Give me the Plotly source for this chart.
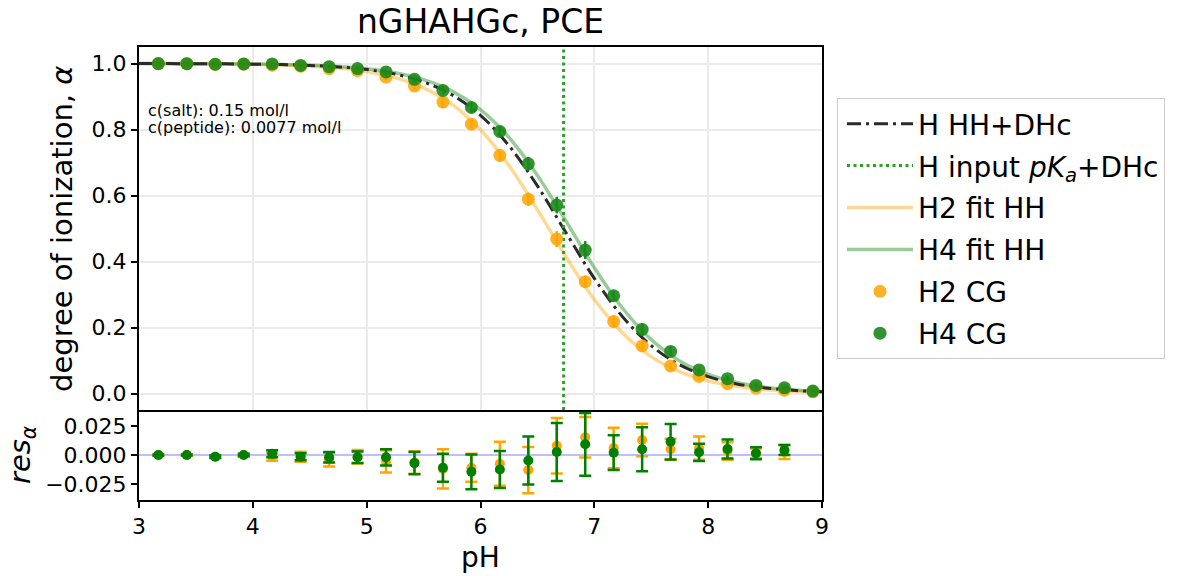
import plotly.graph_objects as go

# ---------------- data ----------------
ph_grid = [3.00, 3.25, 3.50, 3.75, 4.00, 4.25, 4.50, 4.75, 5.00, 5.25, 5.50, 5.75,
           6.00, 6.25, 6.50, 6.75, 7.00, 7.25, 7.50, 7.75, 8.00, 8.25, 8.50, 8.75, 9.00]
hh_dhc = [0.9998, 0.9997, 0.9994, 0.9990, 0.9981, 0.9967, 0.9942, 0.9896, 0.9817, 0.9680,
          0.9440, 0.9050, 0.8430, 0.7510, 0.6290, 0.4880, 0.3490, 0.2320, 0.1450, 0.0870,
          0.0510, 0.0290, 0.0170, 0.0095, 0.0054]
h2_fit = [0.9998, 0.9996, 0.9992, 0.9986, 0.9975, 0.9956, 0.9921, 0.9861, 0.9755, 0.9572,
          0.9264, 0.8762, 0.7992, 0.6912, 0.5573, 0.4145, 0.2848, 0.1829, 0.1118, 0.0661,
          0.0383, 0.0219, 0.0124, 0.0070, 0.0040]
h4_fit = [0.9998, 0.9997, 0.9995, 0.9991, 0.9984, 0.9971, 0.9949, 0.9910, 0.9840, 0.9720,
          0.9512, 0.9164, 0.8605, 0.7762, 0.6610, 0.5230, 0.3814, 0.2575, 0.1632, 0.0988,
          0.0581, 0.0335, 0.0191, 0.0109, 0.0061]

ph_cg = [3.17, 3.42, 3.67, 3.92, 4.17, 4.42, 4.67, 4.92, 5.17, 5.42, 5.67, 5.92,
         6.17, 6.42, 6.67, 6.92, 7.17, 7.42, 7.67, 7.92, 8.17, 8.42, 8.67, 8.92]
h2_alpha = [0.9996, 0.9993, 0.9973, 0.9979, 0.9948, 0.9919, 0.9844, 0.9780, 0.9587, 0.9315,
            0.8830, 0.8160, 0.7216, 0.5890, 0.4680, 0.3390, 0.2180, 0.1445, 0.0834, 0.0517,
            0.0297, 0.0164, 0.0099, 0.0050]
h2_err = [0.0005, 0.0005, 0.0010, 0.0010, 0.0034, 0.0044, 0.0060, 0.0058, 0.0096, 0.0097,
          0.0169, 0.0120, 0.0190, 0.0200, 0.0240, 0.0175, 0.0175, 0.0140, 0.0090, 0.0100,
          0.0076, 0.0040, 0.0060, 0.0040]
h4_alpha = [0.9998, 0.9996, 0.9977, 0.9987, 0.9986, 0.9942, 0.9905, 0.9847, 0.9746, 0.9520,
            0.9185, 0.8666, 0.7940, 0.6960, 0.5710, 0.4347, 0.2962, 0.1943, 0.1275, 0.0713,
            0.0450, 0.0244, 0.0173, 0.0074]
h4_err = [0.0005, 0.0005, 0.0010, 0.0010, 0.0030, 0.0030, 0.0045, 0.0050, 0.0070, 0.0095,
          0.0120, 0.0150, 0.0160, 0.0207, 0.0250, 0.0270, 0.0150, 0.0190, 0.0153, 0.0075,
          0.0082, 0.0052, 0.0043, 0.0040]

ph_res = [3.17, 3.42, 3.67, 3.92, 4.17, 4.42, 4.67, 4.92, 5.17, 5.42, 5.67, 5.92,
          6.17, 6.42, 6.67, 6.92, 7.17, 7.42, 7.67, 7.92, 8.17, 8.42, 8.67]
h2_res = [0.0, 0.0, -0.0015, 0.0, -0.0015, -0.0015, -0.0040, -0.0015, -0.0055, -0.0065,
          -0.0120, -0.0110, -0.0075, -0.0130, 0.0080, 0.0153, 0.0060, 0.0130, 0.0050, 0.0060,
          0.0035, 0.0015, 0.0026]
h4_res = [0.0, 0.0, -0.0015, 0.0, 0.0010, -0.0015, -0.0020, -0.0020, -0.0020, -0.0070,
          -0.0110, -0.0145, -0.0125, -0.0047, 0.0026, 0.0092, 0.0020, 0.0050, 0.0115, 0.0023,
          0.0052, 0.0015, 0.0043]

PKA_INPUT = 6.73
ALPHA_RANGE = [-0.05, 1.05]
RES_RANGE = [-0.0388, 0.0388]
X_RANGE = [3, 9]

# ---------------- styles ----------------
FONT = "DejaVu Sans"
ORANGE = "#ffa500"
GREEN = "#008000"

fig = go.Figure()

# fit curves
fig.add_trace(go.Scatter(x=ph_grid, y=h2_fit, mode="lines", name="H2 fit HH",
                         line=dict(color="rgba(255,165,0,0.42)", width=3.5, shape="spline"),
                         legendrank=3, legendgroup="g3", xaxis="x", yaxis="y"))
fig.add_trace(go.Scatter(x=ph_grid, y=h4_fit, mode="lines", name="H4 fit HH",
                         line=dict(color="rgba(0,128,0,0.4)", width=3.5, shape="spline"),
                         legendrank=4, legendgroup="g4", xaxis="x", yaxis="y"))
fig.add_trace(go.Scatter(x=ph_grid, y=hh_dhc, mode="lines", name="H HH+DHc",
                         line=dict(color="#2b2b2b", width=3, dash="14px,5px,3px,5px", shape="spline"),
                         legendrank=1, legendgroup="g1", xaxis="x", yaxis="y"))
fig.add_trace(go.Scatter(x=[PKA_INPUT, PKA_INPUT], y=ALPHA_RANGE, mode="lines",
                         name="H input <i>pK</i><sub><i>a</i></sub>+DHc",
                         line=dict(color="#2ca02c", width=3, dash="3px,3.5px"),
                         legendrank=2, legendgroup="g2", xaxis="x", yaxis="y"))

# CG data in main panel
fig.add_trace(go.Scatter(x=ph_cg, y=h2_alpha, mode="markers", name="H2 CG",
                         marker=dict(color=ORANGE, size=13, opacity=0.85),
                         error_y=dict(type="data", array=h2_err, color=ORANGE, thickness=2.5, width=0),
                         legendrank=5, legendgroup="g5", xaxis="x", yaxis="y"))
fig.add_trace(go.Scatter(x=ph_cg, y=h4_alpha, mode="markers", name="H4 CG",
                         marker=dict(color="#1a8a1a", size=13, opacity=0.9),
                         error_y=dict(type="data", array=h4_err, color="#1a8a1a", thickness=2.5, width=0),
                         legendrank=6, legendgroup="g6", xaxis="x", yaxis="y"))

# residual panel
fig.add_trace(go.Scatter(x=X_RANGE, y=[0, 0], mode="lines", showlegend=False,
                         line=dict(color="#8080ff", width=1.2), xaxis="x2", yaxis="y2"))
fig.add_trace(go.Scatter(x=ph_res, y=h2_res, mode="markers", showlegend=False,
                         marker=dict(color=ORANGE, size=10),
                         error_y=dict(type="data", array=h2_err[:len(ph_res)], color=ORANGE,
                                      thickness=2.5, width=6),
                         xaxis="x2", yaxis="y2"))
fig.add_trace(go.Scatter(x=ph_res, y=h4_res, mode="markers", showlegend=False,
                         marker=dict(color=GREEN, size=10),
                         error_y=dict(type="data", array=h4_err[:len(ph_res)], color=GREEN,
                                      thickness=2.5, width=6),
                         xaxis="x2", yaxis="y2"))

W, H = 1184, 576
L, R, T, B = 139, 362, 47, 76
plot_h = H - T - B
res_frac = 90 / plot_h

tickfont = dict(family=FONT, size=22, color="black")
line_kw = dict(showline=True, linecolor="black", linewidth=2, zeroline=False)
tick_kw = dict(ticks="outside", ticklen=6, tickwidth=1.5, tickcolor="black", tickfont=tickfont)

fig.update_layout(
    width=W, height=H,
    margin=dict(l=L, r=R, t=T, b=B),
    paper_bgcolor="white", plot_bgcolor="white",
    font=dict(family=FONT, color="black"),
    title=dict(text="nGHAHGc, PCE", x=0.5, xref="paper", xanchor="center",
               y=1 - 21 / H, yref="container", yanchor="middle",
               font=dict(family=FONT, size=33, color="black")),
    xaxis=dict(domain=[0, 1], range=X_RANGE, anchor="y", showticklabels=False, ticks="",
               mirror=True, showgrid=True, gridcolor="#ebebeb", gridwidth=1.5, dtick=1, **line_kw),
    yaxis=dict(domain=[res_frac, 1], range=ALPHA_RANGE, anchor="x", mirror=True,
               tickvals=[0, 0.2, 0.4, 0.6, 0.8, 1.0], tickformat=".1f",
               showgrid=True, gridcolor="#ebebeb", gridwidth=1.5, **line_kw, **tick_kw),
    xaxis2=dict(domain=[0, 1], range=X_RANGE, anchor="y2", matches="x", dtick=1, mirror=False,
                showgrid=False, **line_kw, **tick_kw),
    yaxis2=dict(domain=[0, res_frac], range=RES_RANGE, anchor="x2", mirror=True,
                tickvals=[-0.025, 0, 0.025], tickformat=".3f", showgrid=False, **line_kw, **tick_kw),
    legend=dict(x=(837 - L) / (W - L - R), y=(H - B - 98) / plot_h, xanchor="left", yanchor="top",
                xref="paper", yref="paper",
                font=dict(family=FONT, size=28, color="black"),
                bordercolor="#cccccc", borderwidth=1, bgcolor="rgba(255,255,255,0.8)",
                tracegroupgap=2.5, itemwidth=66, indentation=4, traceorder="grouped"),
    showlegend=True,
)

# axis titles as annotations
fig.add_annotation(text="degree of ionization, <i>α</i>", xref="paper", yref="paper",
                   x=(62 - L) / (W - L - R), y=(H - B - 229) / plot_h, showarrow=False,
                   textangle=-90, xanchor="center", yanchor="middle",
                   font=dict(family=FONT, size=29, color="black"))
fig.add_annotation(text="<i>res</i><sub><i>α</i></sub>", xref="paper", yref="paper",
                   x=(22 - L) / (W - L - R), y=(H - B - 455) / plot_h, showarrow=False,
                   textangle=-90, xanchor="center", yanchor="middle",
                   font=dict(family=FONT, size=29, color="black"))
fig.add_annotation(text="pH", xref="paper", yref="paper",
                   x=0.5, y=(H - B - 557) / plot_h, showarrow=False,
                   xanchor="center", yanchor="middle",
                   font=dict(family=FONT, size=28, color="black"))

# concentration notes
fig.add_annotation(text="c(salt): 0.15 mol/l", xref="paper", yref="paper",
                   x=(146 - L) / (W - L - R), y=(H - B - 110) / plot_h, showarrow=False,
                   xanchor="left", yanchor="middle",
                   font=dict(family=FONT, size=16, color="black"))
fig.add_annotation(text="c(peptide): 0.0077 mol/l", xref="paper", yref="paper",
                   x=(146 - L) / (W - L - R), y=(H - B - 127) / plot_h, showarrow=False,
                   xanchor="left", yanchor="middle",
                   font=dict(family=FONT, size=16, color="black"))

fig.write_html("out.html")
